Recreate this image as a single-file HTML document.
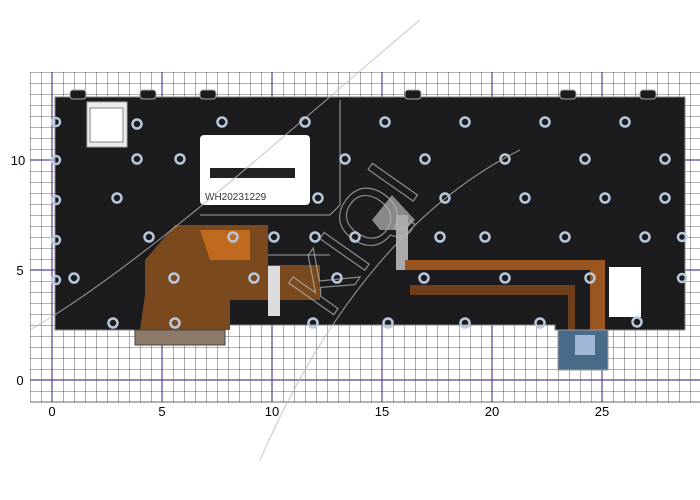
<!DOCTYPE html>
<html><head><meta charset="utf-8"><style>
html,body{margin:0;padding:0;background:#fff;width:700px;height:500px;overflow:hidden}
svg text{font-family:"Liberation Sans",sans-serif}
</style></head><body>
<svg width="700" height="500" viewBox="0 0 700 500" xmlns="http://www.w3.org/2000/svg">
<defs>
<pattern id="g" x="30" y="72" width="11" height="11" patternUnits="userSpaceOnUse">
<path d="M0 0H11M0 0V11" stroke="#333" stroke-width="0.8" fill="none"/>
</pattern>
</defs>
<rect x="30" y="72" width="670" height="330" fill="url(#g)"/>
<line x1="30" y1="402" x2="700" y2="402" stroke="#333" stroke-width="0.8"/>
<g stroke="#5a3f9a" stroke-width="1.2">
<line x1="52" y1="72" x2="52" y2="402"/><line x1="162" y1="72" x2="162" y2="402"/>
<line x1="272" y1="72" x2="272" y2="402"/><line x1="382" y1="72" x2="382" y2="402"/>
<line x1="492" y1="72" x2="492" y2="402"/><line x1="602" y1="72" x2="602" y2="402"/>
<line x1="30" y1="380" x2="700" y2="380"/><line x1="30" y1="270" x2="700" y2="270"/><line x1="30" y1="160" x2="700" y2="160"/>
</g>
<g font-size="13" fill="#000" text-anchor="middle">
<text x="52" y="416">0</text><text x="162" y="416">5</text><text x="272" y="416">10</text>
<text x="382" y="416">15</text><text x="492" y="416">20</text><text x="602" y="416">25</text>
<text x="18" y="165">10</text><text x="20" y="275">5</text><text x="20" y="385">0</text>
</g>
<!-- keyboard -->
<path d="M55 97 L685 97 L685 330 L555 330 L555 325 L225 325 L225 330 L55 330 Z" fill="#1c1c1e" stroke="#888" stroke-width="1"/>
<!-- top tabs -->
<g fill="#1c1c1e" stroke="#aaa"><rect x="70" y="90" width="16" height="9" rx="3"/><rect x="140" y="90" width="16" height="9" rx="3"/><rect x="200" y="90" width="16" height="9" rx="3"/><rect x="405" y="90" width="16" height="9" rx="3"/><rect x="560" y="90" width="16" height="9" rx="3"/><rect x="640" y="90" width="16" height="9" rx="3"/></g>
<!-- sticker -->
<rect x="87" y="102" width="40" height="45" fill="#eee" stroke="#aaa"/>
<rect x="90" y="108" width="33" height="34" fill="#fff" stroke="#333" stroke-width="0.6"/>
<!-- white label -->
<rect x="200" y="135" width="110" height="70" rx="4" fill="#fff"/>
<rect x="210" y="168" width="85" height="10" fill="#222"/>
<text x="205" y="200" font-size="10" fill="#333">WH20231229</text>
<!-- outlines -->
<path d="M200 215 L330 215 L340 205 L340 100 M168 270 L185 255 L330 255" stroke="#ccc" fill="none" stroke-width="0.8"/>
<!-- left flex -->
<path d="M145 295 L145 260 L175 225 L268 225 L268 265 L320 265 L320 300 L230 300 L230 330 L140 330 Z" fill="#7a4a1e"/>
<path d="M200 230 L250 230 L250 260 L210 260 Z" fill="#c06a20"/>
<rect x="135" y="330" width="90" height="15" fill="#8d7a6a" stroke="#444"/>
<rect x="268" y="266" width="12" height="50" fill="#ddd"/>
<!-- center bracket -->
<path d="M372 220 L392 195 L415 220 L405 230 L380 230 Z" fill="#888"/>
<rect x="396" y="215" width="12" height="55" fill="#aaa"/>
<!-- right flex -->
<path d="M405 260 L605 260 L605 330 L590 330 L590 270 L405 270 Z" fill="#9a5520"/>
<path d="M410 285 L575 285 L575 330 L568 330 L568 295 L410 295 Z" fill="#6e3f1a"/>
<rect x="609" y="267" width="32" height="50" fill="#fff"/>
<rect x="558" y="330" width="50" height="40" fill="#4a6a8a" stroke="#999"/>
<rect x="575" y="335" width="20" height="20" fill="#a0b8d8"/>
<!-- holes -->
<g fill="none" stroke="#b8c8dc" stroke-width="2.5">
<circle cx="137" cy="124" r="4.5"/><circle cx="222" cy="122" r="4.5"/><circle cx="137" cy="159" r="4.5"/><circle cx="180" cy="159" r="4.5"/>
<circle cx="117" cy="198" r="4.5"/><circle cx="149" cy="237" r="4.5"/><circle cx="233" cy="237" r="4.5"/><circle cx="274" cy="237" r="4.5"/>
<circle cx="56" cy="122" r="4"/><circle cx="56" cy="160" r="4"/><circle cx="56" cy="200" r="4"/><circle cx="56" cy="240" r="4"/><circle cx="56" cy="280" r="4"/>
<circle cx="74" cy="278" r="4.5"/><circle cx="174" cy="278" r="4.5"/><circle cx="254" cy="278" r="4.5"/><circle cx="337" cy="278" r="4.5"/><circle cx="424" cy="278" r="4.5"/>
<circle cx="113" cy="323" r="4.5"/><circle cx="175" cy="323" r="4.5"/><circle cx="313" cy="323" r="4.5"/><circle cx="388" cy="323" r="4.5"/><circle cx="465" cy="323" r="4.5"/><circle cx="540" cy="323" r="4.5"/>
<circle cx="305" cy="122" r="4.5"/><circle cx="385" cy="122" r="4.5"/><circle cx="465" cy="122" r="4.5"/><circle cx="545" cy="122" r="4.5"/><circle cx="625" cy="122" r="4.5"/>
<circle cx="345" cy="159" r="4.5"/><circle cx="425" cy="159" r="4.5"/><circle cx="505" cy="159" r="4.5"/><circle cx="585" cy="159" r="4.5"/><circle cx="665" cy="159" r="4.5"/>
<circle cx="318" cy="198" r="4.5"/><circle cx="445" cy="198" r="4.5"/><circle cx="525" cy="198" r="4.5"/><circle cx="605" cy="198" r="4.5"/><circle cx="665" cy="198" r="4.5"/>
<circle cx="315" cy="237" r="4.5"/><circle cx="355" cy="237" r="4.5"/><circle cx="440" cy="237" r="4.5"/><circle cx="485" cy="237" r="4.5"/><circle cx="565" cy="237" r="4.5"/><circle cx="645" cy="237" r="4.5"/><circle cx="682" cy="237" r="4"/>
<circle cx="505" cy="278" r="4.5"/><circle cx="590" cy="278" r="4.5"/><circle cx="682" cy="278" r="4"/><circle cx="637" cy="322" r="4.5"/>
</g>
<!-- watermark -->
<g fill="none" stroke="#bbb" stroke-width="1.2" opacity="0.7">
<path d="M30 330 C150 260 300 120 420 20"/><path d="M260 460 C330 300 420 200 520 150"/>
<text x="330" y="320" font-size="80" fill="none" stroke="#bbb" transform="rotate(-55 330 320)">KIQI</text>
</g>
</svg>
</body></html>
